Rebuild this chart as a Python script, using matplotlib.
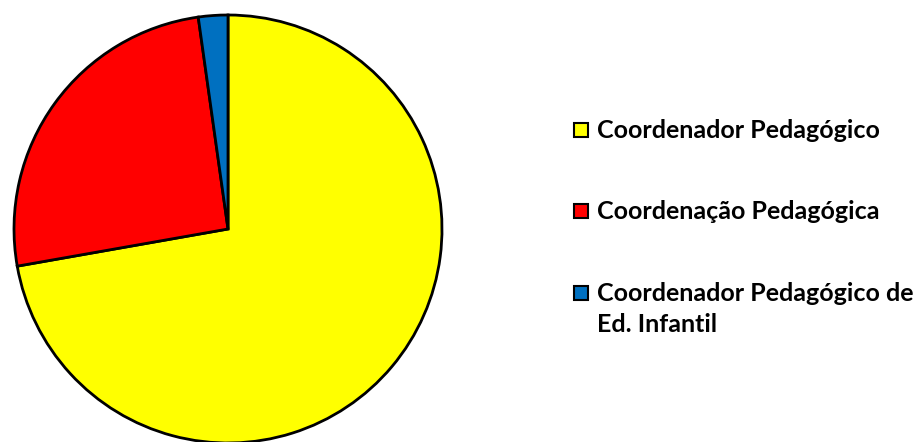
import matplotlib.pyplot as plt
from matplotlib.patches import Rectangle

# slice data
categories = ["Coordenador Pedagógico", "Coordenação Pedagógica",
              "Coordenador Pedagógico de\nEd. Infantil"]
values = [65, 23, 2]
colors = ["#FFFF00", "#FF0000", "#0070C0"]

plt.rcParams['font.family'] = ['Lato', 'DejaVu Sans']

W, H = 916, 442
fig = plt.figure(figsize=(W / 100, H / 100), dpi=100)
# pie axes: centre at (228, 229) px, radius 214 px
ax = fig.add_axes([14 / W, -1 / H, 428 / W, 428 / H])
wedges, _ = ax.pie(values, colors=colors, startangle=90, counterclock=False,
                   radius=1, wedgeprops=dict(edgecolor='black', linewidth=2))
ax.set_xlim(-1, 1)
ax.set_ylim(-1, 1)
ax.set_aspect('equal')
ax.axis('off')

# legend drawn by hand so the marker lines up with the first text line
row_y = [130, 211, 293]  # px from top, centre of first line
for label, col, y in zip(categories, colors, row_y):
    fig.patches.append(Rectangle((574 / W, 1 - (y + 7) / H), 14 / W, 14 / H,
                                 transform=fig.transFigure, facecolor=col,
                                 edgecolor='black', linewidth=1.5))
    fig.text(597 / W, 1 - (y - 11) / H, label, ha='left', va='top',
             fontsize=18, fontweight='bold', linespacing=1.43)

fig.savefig("out.png", dpi=100)
